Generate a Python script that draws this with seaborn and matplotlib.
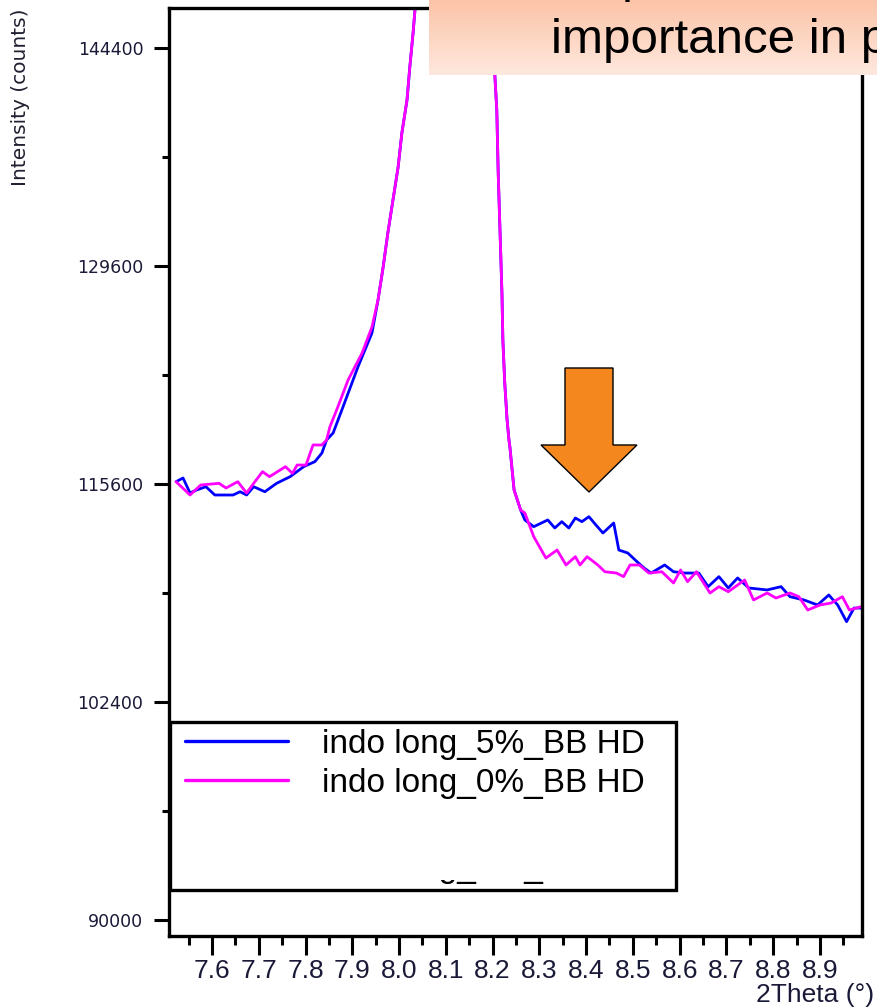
import numpy as np
import pandas as pd
import matplotlib
matplotlib.use("Agg")
import matplotlib.pyplot as plt
import seaborn as sns
from matplotlib.patches import Rectangle, Polygon
from matplotlib.transforms import Bbox, TransformedBbox

# ---------------- data ----------------
series_labels = ["indo long_5%_BB HD", "indo long_0%_BB HD"]
series_colors = ["#0000FF", "#FF00FF"]

theta_5 = [7.523, 7.538, 7.553, 7.567, 7.587, 7.606, 7.645, 7.660, 7.674, 7.689,
           7.713, 7.738, 7.767, 7.796, 7.820, 7.835, 7.845, 7.859, 7.880, 7.912,
           7.942, 7.955, 7.966, 7.976, 7.987, 7.998, 8.006, 8.017, 8.023, 8.030,
           8.034, 8.060, 8.120, 8.180, 8.201, 8.205, 8.209, 8.212, 8.216, 8.220,
           8.222, 8.226, 8.231, 8.235, 8.237, 8.246, 8.260, 8.269, 8.288, 8.318,
           8.333, 8.348, 8.363, 8.377, 8.391, 8.406, 8.421, 8.436, 8.459, 8.470,
           8.489, 8.509, 8.524, 8.539, 8.568, 8.587, 8.611, 8.641, 8.661, 8.684,
           8.704, 8.724, 8.748, 8.787, 8.817, 8.836, 8.866, 8.895, 8.919, 8.938,
           8.957, 8.973, 8.988]
counts_5 = [115743, 115974, 115037, 115226, 115430, 114914, 114914, 115118, 114914, 115430,
            115118, 115641, 116056, 116684, 116998, 117539, 118363, 118804, 120451, 123012,
            125210, 127364, 129535, 131790, 133999, 136220, 138533, 140797, 143081, 145451,
            147065, 175000, 260000, 170000, 147100, 142385, 140108, 135814, 131790, 127821,
            124757, 121989, 119626, 118363, 117917, 115226, 113981, 113367, 112952, 113367,
            112872, 113262, 112872, 113488, 113262, 113569, 113057, 112563, 113178, 111517,
            111336, 110802, 110417, 110111, 110603, 110191, 110111, 110111, 109283, 109892,
            109204, 109813, 109204, 109085, 109283, 108676, 108478, 108175, 108781, 108175,
            107171, 107991, 107991]

theta_0 = [7.523, 7.553, 7.576, 7.615, 7.630, 7.655, 7.674, 7.689, 7.708, 7.723,
           7.757, 7.772, 7.782, 7.801, 7.816, 7.835, 7.845, 7.852, 7.869, 7.891,
           7.921, 7.942, 7.955, 7.966, 7.976, 7.987, 7.998, 8.006, 8.017, 8.023,
           8.030, 8.034, 8.060, 8.120, 8.180, 8.201, 8.205, 8.209, 8.212, 8.216,
           8.220, 8.222, 8.226, 8.231, 8.235, 8.237, 8.246, 8.260, 8.269, 8.288,
           8.314, 8.338, 8.357, 8.377, 8.387, 8.402, 8.425, 8.440, 8.465, 8.480,
           8.494, 8.514, 8.534, 8.562, 8.587, 8.602, 8.617, 8.636, 8.665, 8.684,
           8.704, 8.739, 8.758, 8.787, 8.806, 8.836, 8.855, 8.874, 8.900, 8.924,
           8.948, 8.963, 8.988]
counts_0 = [115743, 114914, 115539, 115641, 115349, 115743, 115037, 115641, 116370, 116056,
            116684, 116267, 116786, 116786, 118047, 118047, 118363, 119184, 120451, 122178,
            123918, 125599, 127364, 129535, 131790, 133999, 136220, 138533, 140797, 143081,
            145451, 147065, 178000, 262000, 168000, 147100, 142385, 140108, 135814, 131790,
            127821, 124757, 121989, 119626, 118363, 117917, 115226, 113981, 113798, 112339,
            111029, 111517, 110603, 111109, 110603, 111109, 110603, 110191, 110111, 109892,
            110603, 110603, 110111, 110191, 109508, 110297, 109587, 110191, 108900, 109283,
            108979, 109687, 108478, 108900, 108597, 108900, 108676, 107873, 108175, 108294,
            108676, 107873, 108070]

y_major = [90000, 102400, 115600, 129600, 144400]
y_minor = [96100, 108900, 122500, 136900]
x_major = [7.6, 7.7, 7.8, 7.9, 8.0, 8.1, 8.2, 8.3, 8.4, 8.5, 8.6, 8.7, 8.8, 8.9]
x_minor = [7.55, 7.65, 7.75, 7.85, 7.95, 8.05, 8.15, 8.25, 8.35, 8.45, 8.55,
           8.65, 8.75, 8.85, 8.95]
x_label = "2Theta (°)"
y_label = "Intensity (counts)"
banner_text = "importance in p"

# ---------------- figure ----------------
W, H = 877, 1008
def fx(px):
    return px / W
def fy(py):
    return 1 - py / H

sns.set_style("white")
plt.rcParams['font.family'] = ['Liberation Sans', 'DejaVu Sans']
plt.rcParams['lines.linewidth'] = 2.0
plt.rcParams['text.color'] = 'black'

fig = plt.figure(figsize=(W / 100, H / 100), dpi=100)
ax = fig.add_axes([fx(169), fy(935.7), (862 - 169) / W, (935.7 - 8.3) / H])

df = pd.concat([
    pd.DataFrame({"theta": theta_5, "counts": counts_5, "series": series_labels[0]}),
    pd.DataFrame({"theta": theta_0, "counts": counts_0, "series": series_labels[1]}),
], ignore_index=True)

sns.lineplot(data=df, x="theta", y="counts", hue="series", hue_order=series_labels,
             palette=dict(zip(series_labels, series_colors)), estimator=None,
             sort=False, linewidth=2.0, ax=ax)

ax.set_yscale('function', functions=(lambda v: np.sqrt(np.clip(v, 0, None)),
                                     lambda s: np.square(s)))
ax.set_xlim(7.508, 8.99)
ax.set_ylim(89138, 147180)

narrow = ['Liberation Sans Narrow', 'Liberation Sans', 'DejaVu Sans']
tick_col = '#1a1a38'

ax.set_yticks(y_major)
ax.set_yticks(y_minor, minor=True)
ax.set_yticklabels([str(v) for v in y_major], fontfamily='DejaVu Sans',
                   fontsize=12.5, color=tick_col)
ax.set_xticks(x_major)
ax.set_xticks(x_minor, minor=True)
ax.set_xticklabels([f"{v:.1f}" for v in x_major], fontfamily=narrow,
                   fontsize=19, color=tick_col)
ax.tick_params(axis='y', which='major', direction='out', length=10.5, width=2.2, pad=8.0,
               left=True, color='black')
ax.tick_params(axis='y', which='minor', direction='out', length=5, width=2.2, left=True,
               color='black')
ax.tick_params(axis='x', which='major', direction='out', length=13.5, width=2.2, pad=3,
               bottom=True, color='black')
ax.tick_params(axis='x', which='minor', direction='out', length=6.7, width=2.2,
               bottom=True, color='black')

for s in ax.spines.values():
    s.set_visible(True)
    s.set_color('black')
    s.set_linewidth(2.4)

ax.set_xlabel(x_label, fontsize=19, fontfamily=narrow, color=tick_col, loc='right')
ax.xaxis.set_label_coords((874 - 169) / (862 - 169), -(995 - 935.7) / (935.7 - 8.3))
ax.xaxis.label.set_ha('right')
ax.xaxis.label.set_va('center')

ax.set_ylabel(y_label, fontsize=14.5, fontfamily='DejaVu Sans', color='#202030')
ax.yaxis.set_label_coords((30 - 169) / (862 - 169), 1 - (97 - 8.3) / (935.7 - 8.3))

# legend
sns.move_legend(ax, loc='upper left', bbox_to_anchor=(fx(185), fy(729)),
                bbox_transform=fig.transFigure, frameon=False, title=None,
                borderpad=0, borderaxespad=0, handlelength=3.1, handletextpad=1.0,
                labelspacing=0.24, fontsize=24)
leg = ax.get_legend()
leg.set_zorder(6)
for h in leg.legend_handles:
    h.set_linewidth(2.4)
for txt in leg.get_texts():
    txt.set_color('black')

frame = Rectangle((fx(170), fy(890)), (676 - 170) / W, (890 - 722) / H,
                  transform=fig.transFigure, facecolor='white', edgecolor='black',
                  linewidth=2.4, zorder=5)
ax.add_artist(frame)
frame.set_clip_on(False)

# clipped third legend line (only underscores peek out)
ghost = fig.text(fx(322), fy(876.5), series_labels[0], fontsize=24, va='baseline',
                 ha='left', color='black', zorder=7)
ghost.set_clip_box(TransformedBbox(Bbox([[fx(300), fy(888)], [fx(660), fy(880)]]),
                                   fig.transFigure))
ghost.set_clip_on(True)

# banner box with gradient
gax = fig.add_axes([fx(429), fy(75), (W - 429) / W, 75 / H])
top_c = np.array([252, 196, 168]) / 255
bot_c = np.array([254, 232, 222]) / 255
t = np.linspace(0, 1, 100)[:, None, None]
grad = top_c[None, None, :] * (1 - t) + bot_c[None, None, :] * t
gax.imshow(grad, aspect='auto', extent=[0, 1, 0, 1])
gax.axis('off')

fig.text(fx(551), fy(52.7), banner_text, fontsize=35.5, va='baseline', ha='left',
         color='black', zorder=8)
fig.text(fx(622), fy(-8), "p", fontsize=35.5, va='baseline', ha='left',
         color='black', zorder=8)

# orange arrow
arrow_px = [(565, 368), (613, 368), (613, 445), (637, 445), (589, 492),
            (541, 445), (565, 445)]
arrow = Polygon([(fx(a), fy(b)) for a, b in arrow_px], closed=True,
                transform=fig.transFigure, facecolor='#F5871F', edgecolor='black',
                linewidth=1.0, zorder=9)
fig.add_artist(arrow)

fig.savefig('out.png', dpi=100)
